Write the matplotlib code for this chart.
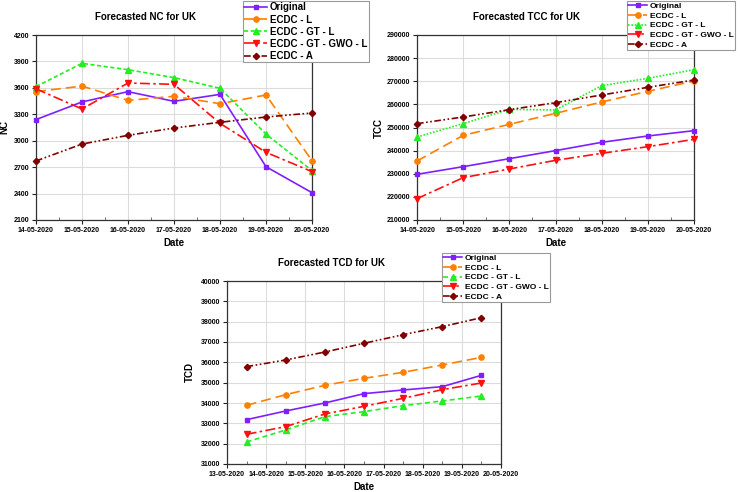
import matplotlib
matplotlib.use("Agg")
import matplotlib.pyplot as plt
import matplotlib.dates as mdates
import pandas as pd

plt.rcParams['font.family'] = ['Liberation Sans', 'DejaVu Sans']
plt.rcParams['font.weight'] = 'bold'

series_names = ["Original", "ECDC - L", "ECDC - GT - L", "ECDC - GT - GWO - L", "ECDC - A"]

dates_nc = ["2020-05-14", "2020-05-15", "2020-05-16", "2020-05-17", "2020-05-18", "2020-05-19", "2020-05-20"]
dates_tcd = ["2020-05-13 12:00", "2020-05-14 12:00", "2020-05-15 12:00", "2020-05-16 12:00",
             "2020-05-17 12:00", "2020-05-18 12:00", "2020-05-19 12:00"]
tcd_ticks = ["2020-05-13", "2020-05-14", "2020-05-15", "2020-05-16", "2020-05-17", "2020-05-18",
             "2020-05-19", "2020-05-20"]

nc_original = [3240, 3440, 3557, 3447, 3526, 2705, 2410]
nc_l = [3558, 3620, 3458, 3504, 3420, 3519, 2773]
nc_gt_l = [3615, 3878, 3806, 3716, 3595, 3076, 2660]
nc_gt_gwo_l = [3589, 3360, 3655, 3640, 3197, 2868, 2649]
nc_a = [2770, 2962, 3061, 3144, 3209, 3269, 3315]

tcc_original = [229750, 233060, 236520, 240000, 243590, 246330, 248630]
tcc_l = [235500, 246600, 251370, 256130, 261030, 265640, 270110]
tcc_gt_l = [245890, 251660, 257860, 257570, 268090, 271260, 275010]
tcc_gt_gwo_l = [219230, 228310, 232060, 235800, 238830, 241710, 244880]
tcc_a = [251660, 254540, 257710, 260740, 264050, 267370, 270540]

tcd_original = [33181, 33607, 34001, 34460, 34640, 34804, 35361]
tcd_l = [33886, 34411, 34870, 35214, 35509, 35870, 36247]
tcd_gt_l = [32083, 32673, 33329, 33575, 33870, 34100, 34345]
tcd_gt_gwo_l = [32461, 32838, 33460, 33837, 34230, 34657, 34985]
tcd_a = [35788, 36116, 36507, 36935, 37361, 37755, 38197]

colors = ["#7F1FFF", "#FF8000", "#22EE22", "#FF1010", "#800000"]
markers = ["s", "o", "^", "v", "D"]
msizes = [3.2, 3.8, 3.8, 3.8, 3.2]

W, H = 740, 492
fig = plt.figure(figsize=(7.4, 4.92), dpi=100)

def px_axes(l, t, r, b):
    return fig.add_axes([l / W, 1 - b / H, (r - l) / W, (b - t) / H])

def draw(ax, x, data, green_ls, title, tx, ylabel, ylx, yl, ytick_step, xlim, xticks,
         leg_left, leg_top, leg_size):
    styles = ["-", (0, (6, 3)), green_ls, (0, (6, 2, 1.5, 2)), (0, (4, 1.5, 1, 1.5, 1, 1.5))]
    for vals, name, c, m, ms, ls in zip(data, series_names, colors, markers, msizes, styles):
        ax.plot(x, vals, color=c, marker=m, markersize=ms, linestyle=ls, linewidth=1.2,
                label=name, clip_on=False, zorder=3)
    ax.set_ylim(*yl)
    ax.set_yticks(range(yl[0], yl[1] + 1, ytick_step))
    ax.set_xlim(*xlim)
    ax.set_xticks(xticks)
    ax.xaxis.set_major_formatter(mdates.DateFormatter("%d-%m-%Y"))
    minors = [a + (b - a) / 2 for a, b in zip(xticks[:-1], xticks[1:])]
    ax.set_xticks(minors, minor=True)
    ax.grid(True, color="#dcdcdc", linewidth=0.8, zorder=0)
    ax.set_axisbelow(True)
    for s in ax.spines.values():
        s.set_color("#333333")
        s.set_linewidth(0.9)
    ax.tick_params(axis='both', which='major', labelsize=5, direction='out', length=3,
                   width=0.8, pad=2, colors="#222222", labelcolor='black')
    ax.tick_params(axis='x', which='minor', direction='in', length=2, width=0.6, colors="#555555")
    for lab in ax.get_xticklabels() + ax.get_yticklabels():
        lab.set_fontweight('bold')
    ax.set_xlabel("Date", fontsize=7, fontweight='bold', labelpad=3)
    ax.set_ylabel(ylabel, fontsize=7, fontweight='bold')
    ax.yaxis.set_label_coords(ylx, 0.5)
    h_px = ax.get_position().height * H
    ax.text(tx, 1 + 17.5 / h_px, title, transform=ax.transAxes, ha='center', va='center',
            fontsize=7, fontweight='bold')
    leg = ax.legend(loc='upper left', bbox_to_anchor=(leg_left / W, 1 - leg_top / H),
                    bbox_transform=fig.transFigure, fontsize=leg_size, frameon=True,
                    fancybox=False, edgecolor="#9a9a9a", framealpha=1, borderpad=0.15,
                    borderaxespad=0, handlelength=2.3, handletextpad=0.3, labelspacing=0.22,
                    prop={'weight': 'bold', 'size': leg_size})
    leg.get_frame().set_linewidth(0.8)
    leg.set_zorder(10)

xnc = pd.to_datetime(dates_nc)
xtcd = pd.to_datetime(dates_tcd)
xt_tcd = pd.to_datetime(tcd_ticks)

ax1 = px_axes(36, 35, 312, 220)
draw(ax1, xnc, [nc_original, nc_l, nc_gt_l, nc_gt_gwo_l, nc_a], (0, (2.5, 1.5)),
     "Forecasted NC for UK", 0.395, "NC", -0.095, (2100, 4200), 300,
     (xnc[0], xnc[-1]), list(xnc), 243, 1, 7)

ax2 = px_axes(417, 35, 694, 220)
draw(ax2, xnc, [tcc_original, tcc_l, tcc_gt_l, tcc_gt_gwo_l, tcc_a], (0, (1, 1)),
     "Forecasted TCC for UK", 0.397, "TCC", -0.119, (210000, 290000), 10000,
     (xnc[0], xnc[-1]), list(xnc), 627, 1, 6)

ax3 = px_axes(227, 281, 501, 464)
draw(ax3, xtcd, [tcd_original, tcd_l, tcd_gt_l, tcd_gt_gwo_l, tcd_a], (0, (3, 2)),
     "Forecasted TCD for UK", 0.383, "TCD", -0.117, (31000, 40000), 1000,
     (xt_tcd[0], xt_tcd[-1]), list(xt_tcd), 442, 253, 6)

fig.savefig("out.png", dpi=100)
